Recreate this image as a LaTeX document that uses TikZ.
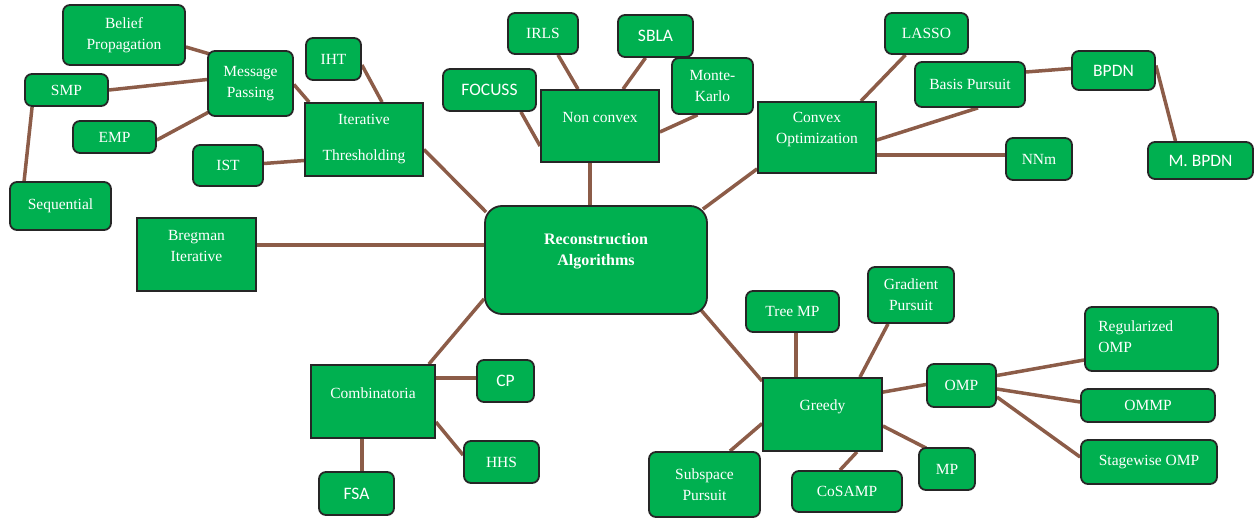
\documentclass[tikz,border=0pt]{standalone}
\usepackage{fontspec}
\setmainfont{Liberation Serif}
\newfontfamily\calib{Carlito}
\usetikzlibrary{backgrounds}
\definecolor{boxgreen}{RGB}{0,176,80}
\definecolor{linkbrown}{RGB}{140,92,72}

\begin{document}
\begin{tikzpicture}[x=1pt,y=-1pt,
	rbox/.style={draw=black!85,line width=1.8pt,fill=boxgreen,rounded corners=7pt,text=white,align=center,inner sep=0pt,font=\fontsize{15.5}{21}\selectfont},
	sbox/.style={rbox,sharp corners},
	sans/.style={font=\calib\fontsize{17.5}{20}\selectfont},
	txt/.style={text=white,align=center,inner sep=0pt,font=\fontsize{15.5}{21}\selectfont},
	sz/.style 2 args={minimum width=#1pt,minimum height=#2pt},
	link/.style={draw=linkbrown,line width=3.5pt}]
				\useasboundingbox (0,0) rectangle (1255,518);
				
				\node[rbox,sz={122}{60}] (belief) at (124,35) {Belief\\Propagation};
				\node[rbox,sz={85}{65}] (msg) at (250.5,83.5) {Message\\Passing};
				\node[rbox,sz={55}{42}] (iht) at (333.5,59) {IHT};
				\node[rbox,sz={83}{32}] (smp) at (66.5,90) {SMP};
				\node[rbox,sz={83}{32}] (emp) at (114.5,137) {EMP};
				\node[rbox,sz={70}{41}] (ist) at (228,165.5) {IST};
				\node[rbox,sz={101}{48}] (seq) at (60.5,206) {Sequential};
				\node[sbox,sz={118}{73}] (itth) at (364,139.5) {Iterative\\[15pt]Thresholding};
				\node[sbox,sz={119}{73}] (breg) at (196.5,254.5) {};
				\node[txt] (breg-t) at ([yshift=8pt]breg.center) {Bregman\\Iterative};
				
				\node[rbox,sz={70}{41}] (irls) at (543,33.5) {IRLS};
				\node[rbox,sans,sz={75}{42}] (sbla) at (655.5,36) {SBLA};
				\node[rbox,sans,sz={93}{42}] (focuss) at (489.5,90) {FOCUSS};
				\node[rbox,sz={81}{56}] (monte) at (712.5,86) {Monte-\\Karlo};
				\node[sbox,sz={118}{72}] (nonc) at (600,126) {};
				\node[txt] (nonc-t) at ([yshift=8pt]nonc.center) {Non convex};
				\node[sbox,sz={118}{71}] (conv) at (817,137.5) {};
				\node[txt] (conv-t) at ([yshift=8pt]conv.center) {Convex\\Optimization};
				\node[rbox,sz={222}{108},rounded corners=17pt] (recon) at (596,260) {};
				\node[txt,font=\bfseries\fontsize{16}{21}\selectfont] (recon-t) at ([yshift=8.5pt]recon.center) {Reconstruction\\Algorithms};
				
				\node[rbox,sz={83}{41}] (lasso) at (926.5,33.5) {LASSO};
				\node[rbox,sz={110}{45}] (basis) at (970,84.5) {Basis Pursuit};
				\node[rbox,sans,sz={83}{39}] (bpdn) at (1113.5,70.5) {BPDN};
				\node[rbox,sz={66}{42}] (nnm) at (1039,159) {NNm};
				\node[rbox,sans,sz={105}{37}] (mbpdn) at (1200.5,160.5) {M. BPDN};
				
				\node[sbox,sz={124}{73}] (comb) at (373,401.5) {};
				\node[txt] (comb-t) at ([yshift=8.5pt]comb.center) {Combinatoria};
				\node[rbox,sans,sz={57}{42}] (cp) at (505.5,381) {CP};
				\node[rbox,sz={75}{42}] (hhs) at (501.5,462) {HHS};
				\node[rbox,sans,sz={75}{43}] (fsa) at (356.5,493.5) {FSA};
				
				\node[rbox,sz={93}{41}] (treemp) at (792.5,311.5) {Tree MP};
				\node[rbox,sz={86}{56}] (grad) at (911,295) {Gradient\\Pursuit};
				\node[sbox,sz={119}{73}] (greedy) at (822.5,414.5) {};
				\node[txt] (greedy-t) at ([yshift=7.5pt]greedy.center) {Greedy};
				\node[rbox,sz={69}{43}] (omp) at (961.5,385.5) {OMP};
				\node[rbox,sz={56}{42}] (mp) at (947,469) {MP};
				\node[rbox,sz={110}{41}] (cosamp) at (847,491.5) {CoSAMP};
				\node[rbox,sz={111}{65}] (subsp) at (704.5,484.5) {Subspace\\Pursuit};
				\node[rbox,sz={133}{64}] (regomp) at (1151.5,339) {};
				\node[txt,align=left,anchor=west] (regomp-t) at ([xshift=14pt,yshift=2pt]regomp.west) {Regularized\\OMP};
				\node[rbox,sz={134}{33}] (ommp) at (1148,405.5) {OMMP};
				\node[rbox,sz={136}{44}] (stage) at (1149,462) {Stagewise OMP};
				
				% links behind the boxes
				\begin{scope}[on background layer]
					\fill[white] (0,0) rectangle (1255,518);
					\draw[link] ([shift={(0,12)}]belief.east) -- ([shift={(3,4)}]msg.north west);
					\draw[link] (smp.east) -- ([shift={(0,-4)}]msg.west);
					\draw[link] ([shift={(0,3)}]emp.east) -- ([shift={(2,-5)}]msg.south west);
					\draw[link] ([shift={(8,0)}]smp.south west) -- ([shift={(15,0)}]seq.north west);
					\draw[link] ([shift={(0,1)}]msg.east) -- ([shift={(5,0)}]itth.north west);
					\draw[link] ([shift={(0,6)}]iht.east) -- ([shift={(18,0)}]itth.north);
					\draw[link] ([shift={(0,-2)}]ist.east) -- ([shift={(0,21)}]itth.west);
					\draw[link] ([shift={(0,10)}]itth.east) -- ([shift={(2,7)}]recon.north west);
					\draw[link] ([shift={(0,-9.5)}]breg.east) -- ([shift={(0,-15)}]recon.west);
					
					\draw[link] ([shift={(-10,0)}]nonc.south) -- ([shift={(-6,0)}]recon.north);
					\draw[link] ([shift={(-16,0)}]focuss.south east) -- ([shift={(0,20)}]nonc.west);
					\draw[link] ([shift={(15,0)}]irls.south) -- ([shift={(-22,0)}]nonc.north);
					\draw[link] ([shift={(-10,0)}]sbla.south) -- ([shift={(23,0)}]nonc.north);
					\draw[link] ([shift={(-15,0)}]monte.south) -- ([shift={(0,6)}]nonc.east);
					\draw[link] ([shift={(0,-5)}]conv.south west) -- ([shift={(-5,4)}]recon.north east);
					
					\draw[link] ([shift={(-21,0)}]lasso.south) -- ([shift={(-16,0)}]conv.north east);
					\draw[link] ([shift={(8,0)}]basis.south) -- ([shift={(0,2.5)}]conv.east);
					\draw[link] ([shift={(0,-4)}]nnm.west) -- ([shift={(0,17.5)}]conv.east);
					\draw[link] ([shift={(0,-12.5)}]basis.east) -- ([shift={(0,-2)}]bpdn.west);
					\draw[link] ([shift={(0,-5)}]bpdn.east) -- ([shift={(-25,0)}]mbpdn.north);
					
					\draw[link] ([shift={(0,-16)}]recon.south west) -- ([shift={(-7,0)}]comb.north east);
					\draw[link] ([shift={(0,-23.5)}]comb.east) -- ([shift={(0,-3)}]cp.west);
					\draw[link] ([shift={(0,20.5)}]comb.east) -- ([shift={(0,-7)}]hhs.west);
					\draw[link] ([shift={(-11,0)}]comb.south) -- ([shift={(5.5,0)}]fsa.north);
					
					\draw[link] ([shift={(-7,-5)}]recon.south east) -- ([shift={(0,4)}]greedy.north west);
					\draw[link] ([shift={(3.5,0)}]treemp.south) -- ([shift={(-26.5,0)}]greedy.north);
					\draw[link] ([shift={(-23,0)}]grad.south) -- ([shift={(37.5,0)}]greedy.north);
					\draw[link] ([shift={(0,15)}]greedy.north east) -- ([shift={(0,-1)}]omp.west);
					\draw[link] ([shift={(0,9)}]greedy.west) -- ([shift={(25.5,0)}]subsp.north);
					\draw[link] ([shift={(34.5,0)}]greedy.south) -- ([shift={(-7,0)}]cosamp.north);
					\draw[link] ([shift={(0,11.5)}]greedy.east) -- ([shift={(8,1)}]mp.north west);
					\draw[link] ([shift={(0,-10)}]omp.east) -- ([shift={(0,21)}]regomp.west);
					\draw[link] ([shift={(0,3.5)}]omp.east) -- ([shift={(0,-3.5)}]ommp.west);
					\draw[link] ([shift={(0,11.5)}]omp.east) -- ([shift={(0,-5)}]stage.west);
				\end{scope}
				
			\end{tikzpicture}
\end{document}
